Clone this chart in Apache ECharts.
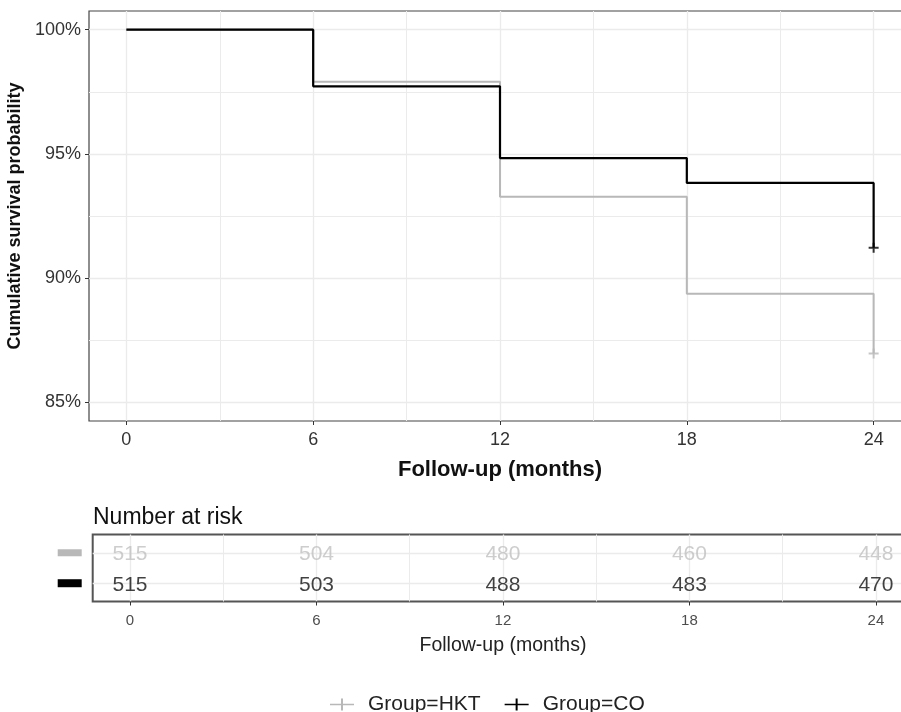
<!DOCTYPE html>
<html>
<head>
<meta charset="utf-8">
<script src="https://cdn.jsdelivr.net/npm/echarts@6/dist/echarts.min.js"></script>
<style>html,body{margin:0;padding:0;background:#fff}#c{width:901px;height:712px}</style>
</head>
<body>
<div id="c"></div>
<script>
// ---- data ----
const groups = ['Group=HKT', 'Group=CO'];
const timesMonths = [0, 6, 12, 18, 24];
const survHKT = [100, 97.9, 93.27, 89.37, 86.97];
const survCO = [100, 97.72, 94.83, 93.83, 91.22];
const censorHKT = [[24, 86.97]];
const censorCO = [[24, 91.22]];
const riskHKT = [515, 504, 480, 460, 448];
const riskCO = [515, 503, 488, 483, 470];
const xTicks = [0, 6, 12, 18, 24];
const xMinorTicks = [3, 9, 15, 21];
const yTicks = [85, 90, 95, 100];
const yMinorTicks = [87.5, 92.5, 97.5];

const colHKT = '#b8b8b8';
const colCO = '#000000';
const FONT = '"Liberation Sans", Arial, Helvetica, sans-serif';
const plusPath = 'path://M0,4H10V6H0Z M4,0H6V10H4Z';
const legendPath = 'path://M0,6.2H24V7.8H0Z M11,1H13V13H11Z';

function stepData(vals) {
  return timesMonths.map((t, i) => [t, vals[i]]);
}
const chart = echarts.init(document.getElementById('c'), null, {renderer: 'canvas'});
const grid = '#ebebeb';

const option = {
  animation: false,
  backgroundColor: '#fff',
  textStyle: {fontFamily: FONT},
  title: {
    text: 'Number at risk', left: 88, top: 501,
    textStyle: {fontFamily: FONT, fontSize: 23, fontWeight: 'normal', color: '#111'}
  },
  legend: {
    left: 325, top: 689,
    itemWidth: 24, itemHeight: 14, itemGap: 24,
    textStyle: {fontFamily: FONT, fontSize: 21, color: '#222', padding: [0, 0, 0, 9]},
    data: [
      {name: groups[0], icon: legendPath, itemStyle: {color: colHKT}},
      {name: groups[1], icon: legendPath, itemStyle: {color: colCO}}
    ]
  },
  grid: [
    {left: 89, top: 11, width: 822, height: 410, show: true, borderColor: '#444', borderWidth: 1.2,
      backgroundColor: '#fff', containLabel: false, outerBoundsMode: 'none'},
    {left: 92.7, top: 534.5, width: 820.5, height: 67, show: true, borderColor: '#555', borderWidth: 2,
      backgroundColor: '#fff', containLabel: false, outerBoundsMode: 'none'}
  ],
  xAxis: [
    {
      type: 'value', gridIndex: 0, min: -1.2, max: 25.2, position: 'bottom',
      axisLine: {show: false, onZero: false},
      axisTick: {show: true, customValues: xTicks, length: 4, lineStyle: {color: '#333', width: 1}},
      axisLabel: {customValues: xTicks, fontSize: 18, color: '#333', margin: 10, fontFamily: FONT},
      splitLine: {show: true, lineStyle: {color: grid, width: 1.3}},
      name: 'Follow-up (months)', nameLocation: 'middle', nameGap: 38,
      nameTextStyle: {fontSize: 22, fontWeight: 'bold', color: '#111', fontFamily: FONT}
    },
    {
      type: 'value', gridIndex: 0, min: -1.2, max: 25.2, position: 'top',
      axisLine: {show: false, onZero: false},
      axisTick: {show: false, customValues: xMinorTicks},
      axisLabel: {show: false},
      splitLine: {show: true, lineStyle: {color: grid, width: 1}}
    },
    {
      type: 'value', gridIndex: 1, min: -1.2, max: 25.2, position: 'bottom',
      axisLine: {show: false, onZero: false},
      axisTick: {show: true, customValues: xTicks, length: 4, lineStyle: {color: '#333', width: 1}},
      axisLabel: {customValues: xTicks, fontSize: 15, color: '#4d4d4d', margin: 12, fontFamily: FONT},
      splitLine: {show: true, lineStyle: {color: grid, width: 1.3}},
      name: 'Follow-up (months)', nameLocation: 'middle', nameGap: 34,
      nameTextStyle: {fontSize: 19.5, fontWeight: 'normal', color: '#222', fontFamily: FONT}
    },
    {
      type: 'value', gridIndex: 1, min: -1.2, max: 25.2, position: 'top',
      axisLine: {show: false, onZero: false},
      axisTick: {show: false, customValues: xMinorTicks},
      axisLabel: {show: false},
      splitLine: {show: true, lineStyle: {color: grid, width: 1}}
    }
  ],
  yAxis: [
    {
      type: 'value', gridIndex: 0, min: 84.25, max: 100.75, position: 'left',
      axisLine: {show: false, onZero: false},
      axisTick: {show: true, customValues: yTicks, length: 4, lineStyle: {color: '#333', width: 1}},
      axisLabel: {customValues: yTicks, fontSize: 18, color: '#333', margin: 8, fontFamily: FONT,
        formatter: v => Math.round(v) + '%'},
      splitLine: {show: true, lineStyle: {color: grid, width: 1.3}},
      name: 'Cumulative survival probability', nameLocation: 'middle', nameGap: 61, nameRotate: 90,
      nameTextStyle: {fontSize: 18, fontWeight: 'bold', color: '#111', fontFamily: FONT}
    },
    {
      type: 'value', gridIndex: 0, min: 84.25, max: 100.75, position: 'right',
      axisLine: {show: false, onZero: false},
      axisTick: {show: false, customValues: yMinorTicks},
      axisLabel: {show: false},
      splitLine: {show: true, lineStyle: {color: grid, width: 1}}
    },
    {
      type: 'value', gridIndex: 1, min: 0.4, max: 2.6, position: 'left',
      axisLine: {show: false, onZero: false},
      axisTick: {show: false, customValues: [1, 2]},
      axisLabel: {customValues: [1, 2], margin: 11,
        formatter: v => (v === 2 ? '{g| }' : '{k| }'),
        rich: {
          g: {backgroundColor: colHKT, width: 24, height: 7},
          k: {backgroundColor: colCO, width: 24, height: 8}
        }},
      splitLine: {show: true, lineStyle: {color: grid, width: 1.3}}
    }
  ],
  series: [
    {
      name: groups[0], type: 'line', xAxisIndex: 0, yAxisIndex: 0, step: 'end',
      data: stepData(survHKT), symbol: 'none', color: colHKT,
      lineStyle: {color: colHKT, width: 2}, z: 3
    },
    {
      name: groups[1], type: 'line', xAxisIndex: 0, yAxisIndex: 0, step: 'end',
      data: stepData(survCO), symbol: 'none', color: colCO,
      lineStyle: {color: colCO, width: 2.2}, z: 4
    },
    {
      name: groups[0], type: 'scatter', xAxisIndex: 0, yAxisIndex: 0,
      data: censorHKT, symbol: plusPath, symbolSize: 10, itemStyle: {color: colHKT}, z: 5
    },
    {
      name: groups[1], type: 'scatter', xAxisIndex: 0, yAxisIndex: 0,
      data: censorCO, symbol: plusPath, symbolSize: 10, itemStyle: {color: colCO}, z: 6
    },
    {
      type: 'scatter', xAxisIndex: 2, yAxisIndex: 2, symbolSize: 0,
      data: timesMonths.map((t, i) => [t, 2, riskHKT[i]]),
      itemStyle: {color: 'transparent'},
      label: {show: true, position: 'inside', formatter: p => String(p.value[2]),
        fontSize: 21, color: '#c0c0c0', fontFamily: FONT, offset: [0, 1]}
    },
    {
      type: 'scatter', xAxisIndex: 2, yAxisIndex: 2, symbolSize: 0,
      data: timesMonths.map((t, i) => [t, 1, riskCO[i]]),
      itemStyle: {color: 'transparent'},
      label: {show: true, position: 'inside', formatter: p => String(p.value[2]),
        fontSize: 21, color: '#111', fontFamily: FONT, offset: [0, 2]}
    }
  ]
};
chart.setOption(option);
</script>
</body>
</html>
